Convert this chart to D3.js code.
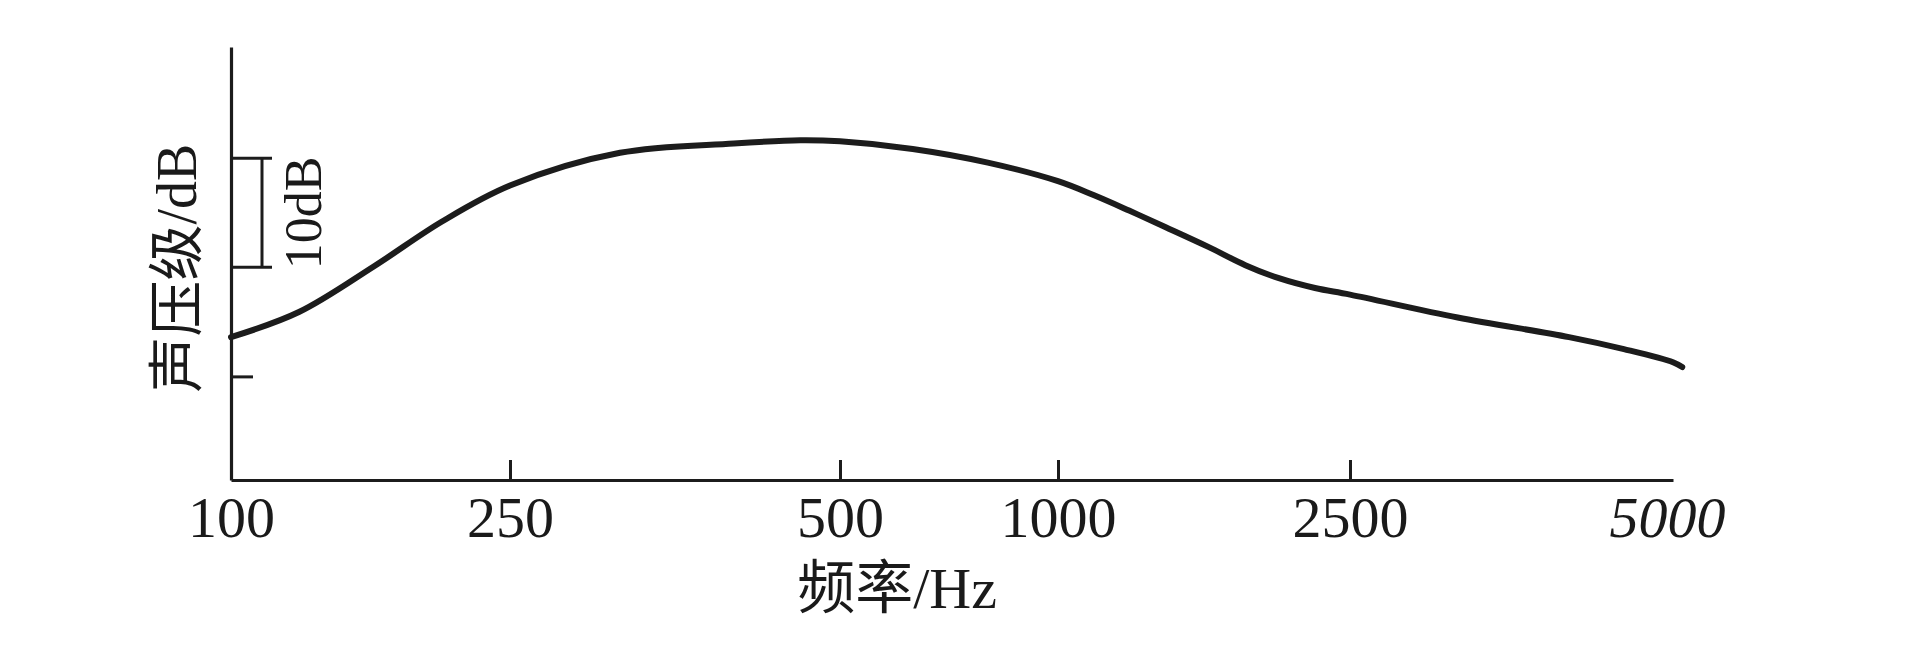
<!DOCTYPE html>
<html>
<head>
<meta charset="utf-8">
<script src="https://cdn.jsdelivr.net/npm/d3@7"></script>
<style>
  html, body { margin: 0; padding: 0; background: #ffffff; }
  svg { display: block; }
  text { fill: #1a1a1a; font-family: "Liberation Serif", "Noto Sans CJK SC", serif; }
</style>
</head>
<body>
<svg id="chart" width="1920" height="664"></svg>
<script>
// ---- data ----
const frequencies = [100, 125, 160, 200, 250, 315, 400, 460, 500, 630, 800, 1000, 1120, 1250, 1400, 1600, 1800, 2000, 2240, 2500, 3150, 4000, 4500, 5000, 5100];
const soundLevels = [53.6, 55.9, 60.1, 64.2, 67.5, 70.5, 71.35, 71.65, 71.55, 70.85, 69.6, 67.9, 66.6, 65.2, 63.7, 61.9, 60.2, 59.0, 58.1, 57.5, 55.4, 53.6, 52.5, 51.3, 50.86];
const xTickLabels = [100, 250, 500, 1000, 2500, 5000];
const xTickMarks = [250, 500, 1000, 2500];
const yTickMarks = [50];
const bracketLevels = [60, 70];
const bracketLabel = "10dB";
const xTitle = "频率/Hz";
const yTitle = "声压级/dB";

// ---- layout ----
const svg = d3.select("#chart");
const ink = "#1c1c1c";
const axisX0 = 231, axisYBottom = 480, axisYTop = 47;
const xRange = [231, 510, 840, 1058, 1350, 1673];

const x = d3.scaleLog().domain(xTickLabels).range(xRange);
const y = d3.scaleLinear().domain([40.5, 80.2]).range([axisYBottom, axisYTop]);

// x axis
const xAxis = d3.axisBottom(x)
  .tickValues(xTickLabels)
  .tickFormat(d3.format("d"))
  .tickSizeInner(-20)
  .tickSizeOuter(0);
const gx = svg.append("g").attr("transform", `translate(0,${axisYBottom})`).call(xAxis);
gx.select(".domain").attr("stroke", ink).attr("stroke-width", 3.2);
gx.selectAll(".tick line")
  .attr("stroke", ink).attr("stroke-width", 3)
  .attr("display", d => xTickMarks.includes(d) ? null : "none");
gx.selectAll(".tick text")
  .attr("y", 57).attr("dy", 0)
  .style("font-size", "58px")
  .style("font-family", "'Liberation Serif', serif")
  .style("font-style", d => d === 5000 ? "italic" : "normal")
  .attr("dx", d => d === 5000 ? -6 : 0)
  .attr("fill", "#1a1a1a");

// y axis
const yAxis = d3.axisLeft(y).tickValues(yTickMarks).tickSizeInner(-22).tickSizeOuter(0).tickFormat("");
const gy = svg.append("g").attr("transform", `translate(${axisX0},0)`).call(yAxis);
gy.select(".domain").attr("stroke", ink).attr("stroke-width", 3.2);
gy.selectAll(".tick line").attr("stroke", ink).attr("stroke-width", 3);

// 10 dB bracket
const bracketLen = 41, bracketStem = 31;
const bracket = svg.append("g");
bracket.selectAll("line.h").data(bracketLevels).join("line")
  .attr("x1", axisX0).attr("x2", axisX0 + bracketLen)
  .attr("y1", d => y(d)).attr("y2", d => y(d))
  .attr("stroke", ink).attr("stroke-width", 3);
bracket.append("line")
  .attr("x1", axisX0 + bracketStem).attr("x2", axisX0 + bracketStem)
  .attr("y1", y(bracketLevels[0])).attr("y2", y(bracketLevels[1]))
  .attr("stroke", ink).attr("stroke-width", 3);
bracket.append("text")
  .attr("transform", `translate(${axisX0 + 72},${y(d3.mean(bracketLevels))}) rotate(-90)`)
  .attr("text-anchor", "middle")
  .attr("dominant-baseline", "central")
  .style("font-size", "52px")
  .text(bracketLabel);

// curve
const pts = frequencies.map((f, i) => [f, soundLevels[i]]);
svg.append("path")
  .datum(pts)
  .attr("fill", "none")
  .attr("stroke", ink)
  .attr("stroke-width", 6)
  .attr("stroke-linecap", "round")
  .attr("stroke-linejoin", "round")
  .attr("d", d3.line().x(d => x(d[0])).y(d => y(d[1])).curve(d3.curveCatmullRom.alpha(0.5)));

// titles
svg.append("text")
  .attr("x", 897).attr("y", 608)
  .attr("text-anchor", "middle")
  .style("font-size", "58px")
  .text(xTitle);

svg.append("text")
  .attr("transform", `translate(177,268) rotate(-90)`)
  .attr("text-anchor", "middle")
  .attr("dominant-baseline", "central")
  .style("font-size", "56px")
  .text(yTitle);
</script>
</body>
</html>
